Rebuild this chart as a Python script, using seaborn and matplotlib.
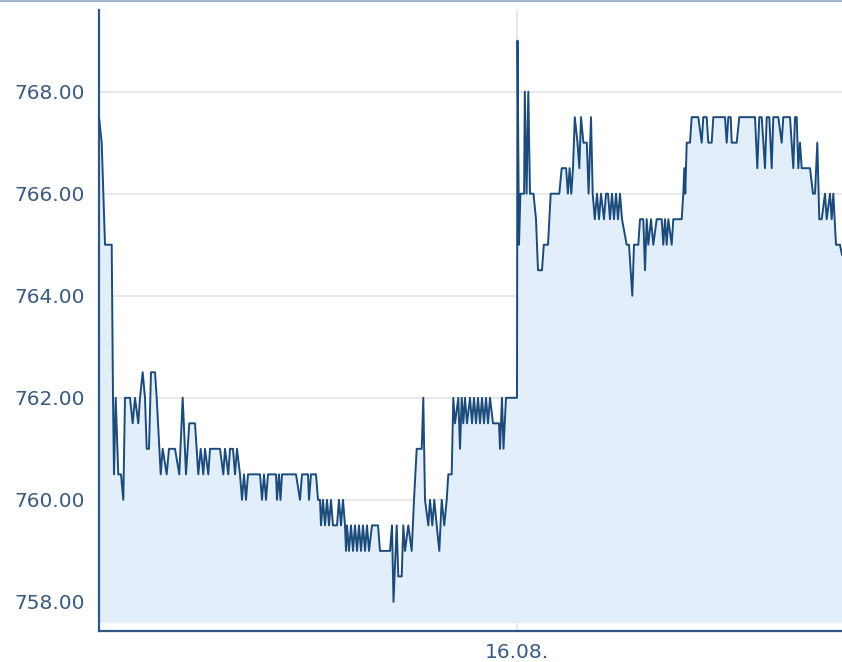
import matplotlib
matplotlib.use("Agg")
import matplotlib.pyplot as plt
from matplotlib.lines import Line2D
import seaborn as sns
import pandas as pd
import numpy as np

# Time in 2-minute bars since the 15.08. session open; 16.08. session starts at bar 418
day1_bars = [0, 2.7, 6, 12.7, 14, 15, 16.7, 19.3, 22, 24.3, 26, 31, 33.7, 36, 39.3, 41, 43.7, 46, 47.7, 50,
             52, 56, 57.7, 61.7, 63.7, 67.7, 70, 76, 80.3, 83.7, 87, 90.3, 96, 99.3, 101.7, 104.3, 106, 109.3,
             111, 121, 124.3, 126, 129.3, 131, 134, 136, 138, 141, 143, 145, 147, 149, 161, 163, 165, 167, 169,
             177, 178, 180, 181.5, 183, 197, 201, 203, 209, 210, 212, 217, 219, 221, 222, 224, 226, 228, 230,
             232, 234, 238, 240, 242, 244, 246, 247, 248, 250, 252, 254, 256, 258, 260, 262, 264, 266, 268,
             270, 273, 279, 281, 291, 293, 294.5, 297.7, 299.3, 302.7, 304.3, 306, 309.3, 312.7, 315, 317.7,
             322.7, 324.3, 326, 329.3, 331, 333.3, 335.3, 337.7, 340.3, 342.7, 345.3, 347.7, 349.3, 352.7,
             354.3, 356, 359.3, 361, 362.7, 364.3, 366, 368, 371, 373, 375, 377, 379, 381, 383, 385, 387, 389,
             391, 394, 400, 401, 403, 404.5, 407, 418]
day1_prices = [767.5, 767.0, 765.0, 765.0, 762.0, 760.5, 762.0, 760.5, 760.5, 760.0, 762.0, 762.0, 761.5, 762.0,
               761.5, 762.0, 762.5, 762.0, 761.0, 761.0, 762.5, 762.5, 762.0, 760.5, 761.0, 760.5, 761.0, 761.0,
               760.5, 762.0, 760.5, 761.5, 761.5, 760.5, 761.0, 760.5, 761.0, 760.5, 761.0, 761.0, 760.5, 761.0,
               760.5, 761.0, 761.0, 760.5, 761.0, 760.5, 760.0, 760.5, 760.0, 760.5, 760.5, 760.0, 760.5, 760.0,
               760.5, 760.5, 760.0, 760.5, 760.0, 760.5, 760.5, 760.0, 760.5, 760.5, 760.0, 760.5, 760.5, 760.0,
               760.0, 759.5, 760.0, 759.5, 760.0, 759.5, 760.0, 759.5, 759.5, 760.0, 759.5, 760.0, 759.5, 759.0,
               759.5, 759.0, 759.5, 759.0, 759.5, 759.0, 759.5, 759.0, 759.5, 759.0, 759.5, 759.0, 759.5, 759.5,
               759.0, 759.0, 759.5, 758.0, 759.5, 758.5, 758.5, 759.5, 759.0, 759.5, 759.0, 760.0, 761.0, 761.0,
               762.0, 760.0, 759.5, 760.0, 759.5, 760.0, 759.5, 759.0, 760.0, 759.5, 760.0, 760.5, 760.5, 762.0,
               761.5, 762.0, 761.0, 762.0, 761.5, 762.0, 761.5, 762.0, 761.5, 762.0, 761.5, 762.0, 761.5, 762.0,
               761.5, 762.0, 761.5, 762.0, 761.5, 761.5, 761.0, 762.0, 761.0, 762.0, 762.0]

day2_bars = [418.5, 420, 421.4, 425.1, 425.8, 427.6, 429.3, 431, 434.5, 437, 439, 443, 444.8, 449, 451.7, 460.3,
             462.7, 467.1, 468.9, 470.6, 472.3, 474, 475.8, 478.5, 480.3, 482, 484.4, 487.8, 489.6, 492, 493.7,
             495.8, 498, 500, 502, 505, 507, 509, 511, 513, 515, 517, 519, 521, 523, 527.7, 530, 533.3, 535,
             539.3, 541, 544.3, 546, 547.7, 549.3, 552, 554.3, 557.7, 562.7, 564.3, 566, 567.7, 569.3, 572.7,
             574.3, 582.7, 584.3, 585.3, 586.3, 587.7, 591, 592.7, 599.3, 602.7, 604.3, 607.7, 609.3, 612.7,
             614.3, 626, 627.7, 629.3, 631.7, 632.7, 637.7, 640.3, 656, 658.3, 660.3, 662.7, 666, 667.7, 670.3,
             672.7, 674.3, 679.3, 682.7, 684.3, 691, 694.3, 696, 697.7, 699.3, 701, 702.7, 711, 714, 716, 718.3,
             720.3, 722.7, 726, 727.7, 731, 732.7, 734.3, 737, 741, 743]
day2_prices = [769.0, 765.0, 766.0, 766.0, 768.0, 766.0, 768.0, 766.0, 766.0, 765.5, 764.5, 764.5, 765.0, 765.0,
               766.0, 766.0, 766.5, 766.5, 766.0, 766.5, 766.0, 766.5, 767.5, 767.0, 766.5, 767.5, 767.0, 767.0,
               766.0, 767.5, 766.0, 765.5, 766.0, 765.5, 766.0, 765.5, 766.0, 766.0, 765.5, 766.0, 765.5, 766.0,
               765.5, 766.0, 765.5, 765.0, 765.0, 764.0, 765.0, 765.0, 765.5, 765.5, 764.5, 765.5, 765.0, 765.5,
               765.0, 765.5, 765.5, 765.0, 765.5, 765.0, 765.5, 765.0, 765.5, 765.5, 766.0, 766.5, 766.0, 767.0,
               767.0, 767.5, 767.5, 767.0, 767.5, 767.5, 767.0, 767.0, 767.5, 767.5, 767.0, 767.5, 767.5, 767.0,
               767.0, 767.5, 767.5, 766.5, 767.5, 767.5, 766.5, 767.5, 767.5, 766.5, 767.5, 767.5, 767.0, 767.5,
               767.5, 766.5, 767.5, 767.5, 766.5, 767.0, 766.5, 766.5, 766.0, 766.0, 767.0, 765.5, 765.5, 766.0,
               765.5, 766.0, 765.5, 766.0, 765.0, 765.0, 764.8]

y_ticks = [758, 760, 762, 764, 766, 768]
x_tick_pos = [418]
x_tick_labels = ["16.08."]

df = pd.DataFrame({"bar": day1_bars + day2_bars, "price": day1_prices + day2_prices})

LINE = "#1b4b7b"
FILL = "#e2eef9"
GRID = "#e2e2e2"
TEXT = "#3a5a80"

sns.set_theme(style="white")
plt.rcParams["font.family"] = ["DejaVu Sans"]

fig = plt.figure(figsize=(8.42, 6.62), dpi=100)
ax = fig.add_axes([99 / 842, 1 - 631 / 662, 1 - 99 / 842, (631 - 10) / 662])

ax.fill_between(df["bar"], df["price"], 757.6, color=FILL, lw=0, zorder=1)
sns.lineplot(data=df, x="bar", y="price", ax=ax, color=LINE, lw=1.4, sort=False,
             estimator=None, zorder=3)

ax.set_xlim(0, 743)
ax.set_ylim(757.43, 769.6)
ax.set_yticks(y_ticks)
ax.set_yticklabels([f"{v:.2f}" for v in y_ticks])
ax.set_xticks(x_tick_pos)
ax.set_xticklabels(x_tick_labels)
ax.set_xlabel("")
ax.set_ylabel("")

ax.grid(True, axis="both", color=GRID, lw=1.1, zorder=0)
ax.set_axisbelow(True)

for side in ["top", "right"]:
    ax.spines[side].set_visible(False)
for side in ["left", "bottom"]:
    ax.spines[side].set_color("#2c5683")
    ax.spines[side].set_linewidth(1.6)

ax.tick_params(axis="y", length=0, pad=10, labelsize=14.5, labelcolor=TEXT)
ax.tick_params(axis="x", length=0, pad=9, labelsize=14.5, labelcolor=TEXT)

fig.add_artist(Line2D([0, 1], [0.999, 0.999], transform=fig.transFigure, color="#9fb5cc", lw=1.5))

fig.savefig("out.png", dpi=100)
